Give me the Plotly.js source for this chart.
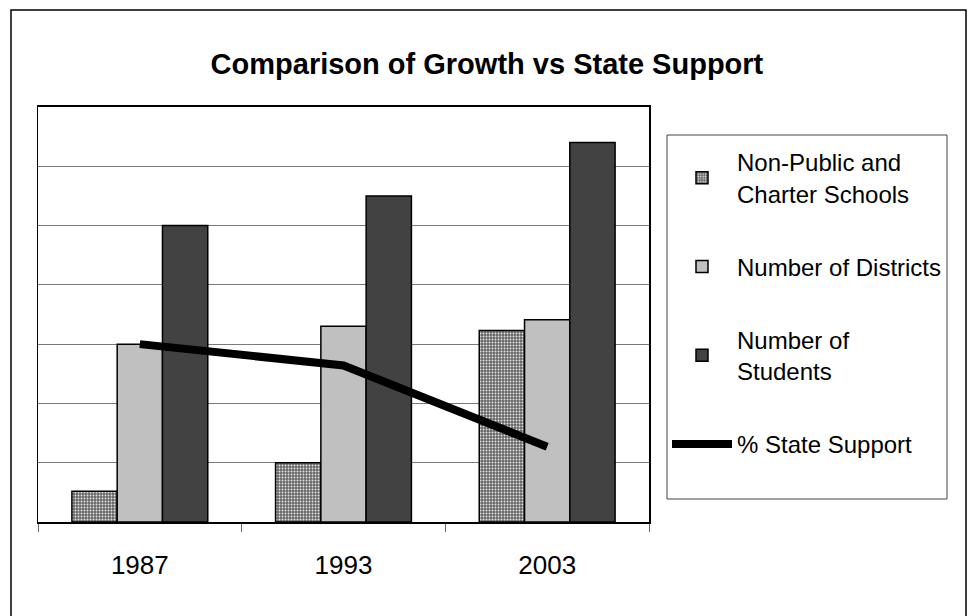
<!DOCTYPE html>
<html>
<head>
<meta charset="utf-8">
<script src="https://cdn.plot.ly/plotly-3.0.1.min.js"></script>
<style>html,body{margin:0;padding:0;background:#fff;}#chart{width:970px;height:616px;}</style>
</head>
<body>
<div id="chart"></div>
<script>
// Data (units = gridline steps)
const years = ['1987', '1993', '2003'];
const nonPublicCharter = [0.52, 1.0, 3.23];
const numDistricts = [3.0, 3.3, 3.41];
const numStudents = [5.0, 5.5, 6.4];
const pctStateSupport = [3.0, 2.64, 1.27];
const seriesNames = ['Non-Public and<br>Charter Schools', 'Number of Districts', 'Number of<br>Students', '% State Support'];

const FONT = '"Liberation Sans", Arial, Helvetica, sans-serif';
const outline = {color: '#000', width: 1.5};

const traces = [
  {type: 'bar', x: years, y: nonPublicCharter, name: seriesNames[0], legendgroup: 'a',
   marker: {color: '#8a8a8a', line: outline,
            pattern: {shape: '.', fgcolor: '#e8e8e8', bgcolor: '#666', size: 3, solidity: 0.3}}},
  {type: 'bar', x: years, y: numDistricts, name: seriesNames[1], legendgroup: 'b',
   marker: {color: '#c0c0c0', line: outline}},
  {type: 'bar', x: years, y: numStudents, name: seriesNames[2], legendgroup: 'c',
   marker: {color: '#424242', line: outline}},
  {type: 'scatter', mode: 'lines', x: years, y: pctStateSupport, name: seriesNames[3], legendgroup: 'd',
   line: {color: '#000', width: 8}}
];

const L = 38, R = 649, T = 107, B = 522;
const W = 970, H = 616;
const px = v => (v - L) / (R - L);
const py = v => (B - v) / (B - T);

const layout = {
  width: W, height: H,
  margin: {l: L, r: W - R, t: T, b: H - B, pad: 0},
  paper_bgcolor: '#fff', plot_bgcolor: '#fff',
  font: {family: FONT, color: '#000', size: 24},
  title: {text: '<b>Comparison of Growth vs State Support</b>', xref: 'container', x: 0.502,
          xanchor: 'center', yref: 'container', y: 0.897, yanchor: 'middle',
          font: {family: FONT, size: 29, color: '#000'}},
  barmode: 'group', bargap: 0.333, bargroupgap: 0,
  showlegend: true,
  legend: {x: px(667), y: py(140), xanchor: 'left', yanchor: 'top', xref: 'paper', yref: 'paper',
           borderwidth: 0, bgcolor: 'rgba(0,0,0,0)',
           font: {family: FONT, size: 24, color: '#000'}, itemwidth: 60,
           tracegroupgap: 39, traceorder: 'grouped'},
  xaxis: {type: 'category', showgrid: false, showline: true, linecolor: '#000', linewidth: 2,
          mirror: true, ticks: 'outside', tickson: 'boundaries', ticklen: 8, tickcolor: '#666',
          tickwidth: 1, ticklabelstandoff: 19, tickfont: {family: FONT, size: 26, color: '#000'},
          fixedrange: true},
  yaxis: {range: [0, 7], dtick: 1, tick0: 0, showgrid: true, gridcolor: '#7a7a7a', gridwidth: 1,
          showticklabels: false, ticks: '', showline: true, linecolor: '#000', linewidth: 1.5,
          mirror: true, zeroline: false, fixedrange: true},
  shapes: [
    {type: 'rect', xref: 'paper', yref: 'paper', x0: px(11), x1: px(966), y0: py(640), y1: py(10),
     line: {color: '#000', width: 1.5}, fillcolor: 'rgba(0,0,0,0)', layer: 'below'},
    {type: 'rect', xref: 'paper', yref: 'paper', x0: px(667), x1: px(947), y0: py(499), y1: py(135),
     line: {color: '#444', width: 1}, fillcolor: 'rgba(0,0,0,0)', layer: 'above'}
  ]
};

Plotly.newPlot('chart', traces, layout, {displayModeBar: false, staticPlot: true});
</script>
</body>
</html>
